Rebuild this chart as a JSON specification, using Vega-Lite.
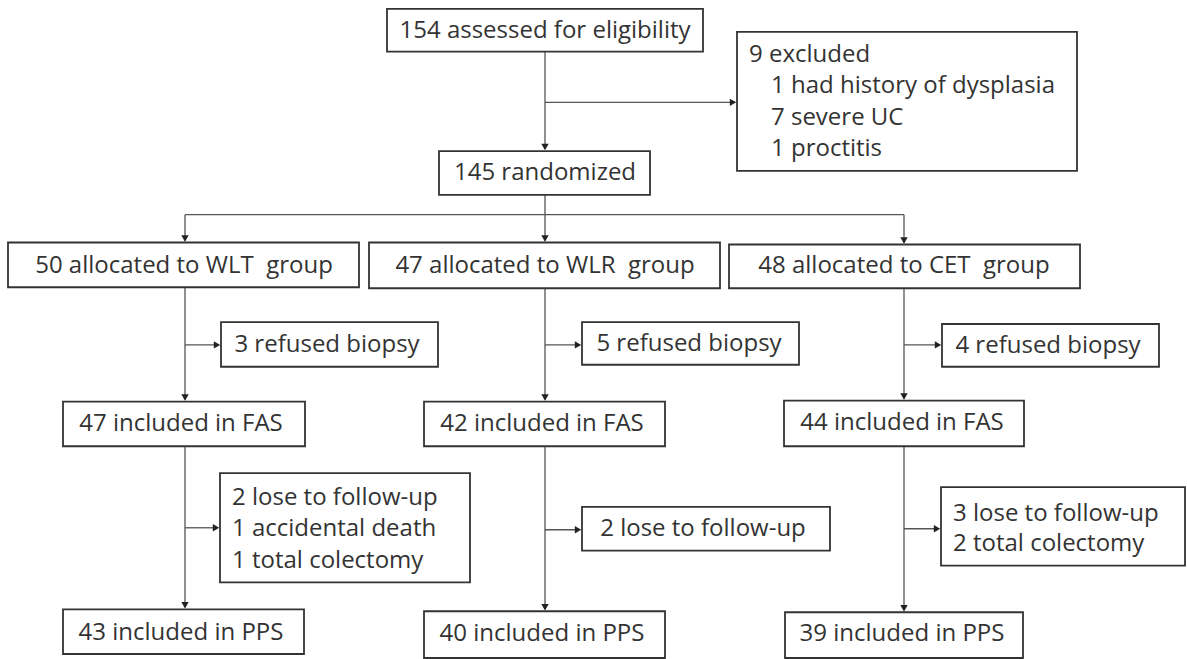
{
  "$schema": "https://vega.github.io/schema/vega-lite/v6.json",
  "autosize": {"type": "fit", "contains": "padding"},
  "width": 1187,
  "height": 659,
  "padding": 0,
  "background": "white",
  "config": {"view": {"stroke": null}},
  "datasets": {
    "boxes": [
      {"x1": 387, "x2": 703, "y1": 9, "y2": 52},
      {"x1": 737, "x2": 1077, "y1": 32, "y2": 172},
      {"x1": 439, "x2": 650, "y1": 152, "y2": 196},
      {"x1": 8, "x2": 359, "y1": 244, "y2": 289},
      {"x1": 369, "x2": 720, "y1": 244, "y2": 290},
      {"x1": 729, "x2": 1080, "y1": 246, "y2": 290},
      {"x1": 221, "x2": 438, "y1": 324, "y2": 369},
      {"x1": 582, "x2": 799, "y1": 324, "y2": 367},
      {"x1": 942, "x2": 1159, "y1": 326, "y2": 369},
      {"x1": 63, "x2": 305, "y1": 404, "y2": 449},
      {"x1": 424, "x2": 665, "y1": 404, "y2": 449},
      {"x1": 784, "x2": 1024, "y1": 403, "y2": 449},
      {"x1": 220, "x2": 470, "y1": 476, "y2": 586},
      {"x1": 582, "x2": 830, "y1": 510, "y2": 554},
      {"x1": 941, "x2": 1185, "y1": 490, "y2": 569},
      {"x1": 63, "x2": 304, "y1": 613, "y2": 658},
      {"x1": 424, "x2": 665, "y1": 615, "y2": 662},
      {"x1": 785, "x2": 1023, "y1": 616, "y2": 662}
    ],
    "lines": [
      {"x1": 545, "x2": 545, "y1": 52, "y2": 150},
      {"x1": 545, "x2": 734, "y1": 103, "y2": 103},
      {"x1": 545, "x2": 545, "y1": 196, "y2": 242},
      {"x1": 185, "x2": 904, "y1": 216, "y2": 216},
      {"x1": 185, "x2": 185, "y1": 216, "y2": 242},
      {"x1": 904, "x2": 904, "y1": 216, "y2": 244},
      {"x1": 185, "x2": 185, "y1": 289, "y2": 402},
      {"x1": 185, "x2": 218, "y1": 347, "y2": 347},
      {"x1": 545, "x2": 545, "y1": 290, "y2": 402},
      {"x1": 545, "x2": 579, "y1": 347, "y2": 347},
      {"x1": 904, "x2": 904, "y1": 290, "y2": 401},
      {"x1": 904, "x2": 939, "y1": 347, "y2": 347},
      {"x1": 185, "x2": 185, "y1": 449, "y2": 611},
      {"x1": 185, "x2": 217, "y1": 531, "y2": 531},
      {"x1": 545, "x2": 545, "y1": 449, "y2": 613},
      {"x1": 545, "x2": 579, "y1": 533, "y2": 533},
      {"x1": 904, "x2": 904, "y1": 449, "y2": 614},
      {"x1": 904, "x2": 938, "y1": 532, "y2": 532}
    ],
    "down": [
      {"x": 545, "y": 152}, {"x": 185, "y": 244}, {"x": 545, "y": 244}, {"x": 904, "y": 246},
      {"x": 185, "y": 404}, {"x": 545, "y": 404}, {"x": 904, "y": 403},
      {"x": 185, "y": 613}, {"x": 545, "y": 615}, {"x": 904, "y": 616}
    ],
    "right": [
      {"x": 737, "y": 103}, {"x": 221, "y": 347}, {"x": 582, "y": 347}, {"x": 942, "y": 347},
      {"x": 220, "y": 531}, {"x": 582, "y": 533}, {"x": 941, "y": 532}
    ],
    "centered": [
      {"x": 545, "y": 31, "t": "154 assessed for eligibility"},
      {"x": 545, "y": 174, "t": "145 randomized"},
      {"x": 184, "y": 268, "t": "50 allocated to WLT\u00a0 group"},
      {"x": 545, "y": 268, "t": "47 allocated to WLR\u00a0 group"},
      {"x": 904, "y": 268, "t": "48 allocated to CET\u00a0 group"},
      {"x": 327, "y": 347, "t": "3 refused biopsy"},
      {"x": 689, "y": 346, "t": "5 refused biopsy"},
      {"x": 1048, "y": 348, "t": "4 refused biopsy"},
      {"x": 181, "y": 427, "t": "47 included in FAS"},
      {"x": 542, "y": 427, "t": "42 included in FAS"},
      {"x": 902, "y": 426, "t": "44 included in FAS"},
      {"x": 703, "y": 532, "t": "2 lose to follow-up"},
      {"x": 181, "y": 637, "t": "43 included in PPS"},
      {"x": 542, "y": 638, "t": "40 included in PPS"},
      {"x": 902, "y": 638, "t": "39 included in PPS"}
    ],
    "lefttext": [
      {"x": 749, "y": 55, "t": "9 excluded"},
      {"x": 771, "y": 87, "t": "1 had history of dysplasia"},
      {"x": 771, "y": 119, "t": "7 severe UC"},
      {"x": 771, "y": 150, "t": "1 proctitis"},
      {"x": 232, "y": 501, "t": "2 lose to follow-up"},
      {"x": 232, "y": 532, "t": "1 accidental death"},
      {"x": 232, "y": 564, "t": "1 total colectomy"},
      {"x": 953, "y": 517, "t": "3 lose to follow-up"},
      {"x": 953, "y": 547, "t": "2 total colectomy"}
    ]
  },
  "encoding": {},
  "layer": [
    {
      "data": {"name": "lines"},
      "mark": {"type": "rule", "color": "#555555", "strokeWidth": 1.3},
      "encoding": {
        "x": {"field": "x1", "type": "quantitative", "scale": {"domain": [0, 1187], "nice": false, "zero": false}, "axis": null},
        "x2": {"field": "x2"},
        "y": {"field": "y1", "type": "quantitative", "scale": {"domain": [659, 0], "nice": false, "zero": false}, "axis": null},
        "y2": {"field": "y2"}
      }
    },
    {
      "data": {"name": "boxes"},
      "mark": {"type": "rect", "fill": "white", "stroke": "#333333", "strokeWidth": 1.8},
      "encoding": {
        "x": {"field": "x1", "type": "quantitative"},
        "x2": {"field": "x2"},
        "y": {"field": "y1", "type": "quantitative"},
        "y2": {"field": "y2"}
      }
    },
    {
      "data": {"name": "down"},
      "mark": {"type": "point", "shape": "triangle-down", "filled": true, "color": "#222222", "size": 55, "yOffset": -4, "opacity": 1},
      "encoding": {
        "x": {"field": "x", "type": "quantitative"},
        "y": {"field": "y", "type": "quantitative"}
      }
    },
    {
      "data": {"name": "right"},
      "mark": {"type": "point", "shape": "triangle-right", "filled": true, "color": "#222222", "size": 55, "xOffset": -4, "opacity": 1},
      "encoding": {
        "x": {"field": "x", "type": "quantitative"},
        "y": {"field": "y", "type": "quantitative"}
      }
    },
    {
      "data": {"name": "centered"},
      "mark": {"type": "text", "align": "center", "baseline": "middle", "font": "Open Sans", "fontSize": 24, "color": "#333333"},
      "encoding": {
        "x": {"field": "x", "type": "quantitative"},
        "y": {"field": "y", "type": "quantitative"},
        "text": {"field": "t"}
      }
    },
    {
      "data": {"name": "lefttext"},
      "mark": {"type": "text", "align": "left", "baseline": "middle", "font": "Open Sans", "fontSize": 24, "color": "#333333"},
      "encoding": {
        "x": {"field": "x", "type": "quantitative"},
        "y": {"field": "y", "type": "quantitative"},
        "text": {"field": "t"}
      }
    }
  ]
}
